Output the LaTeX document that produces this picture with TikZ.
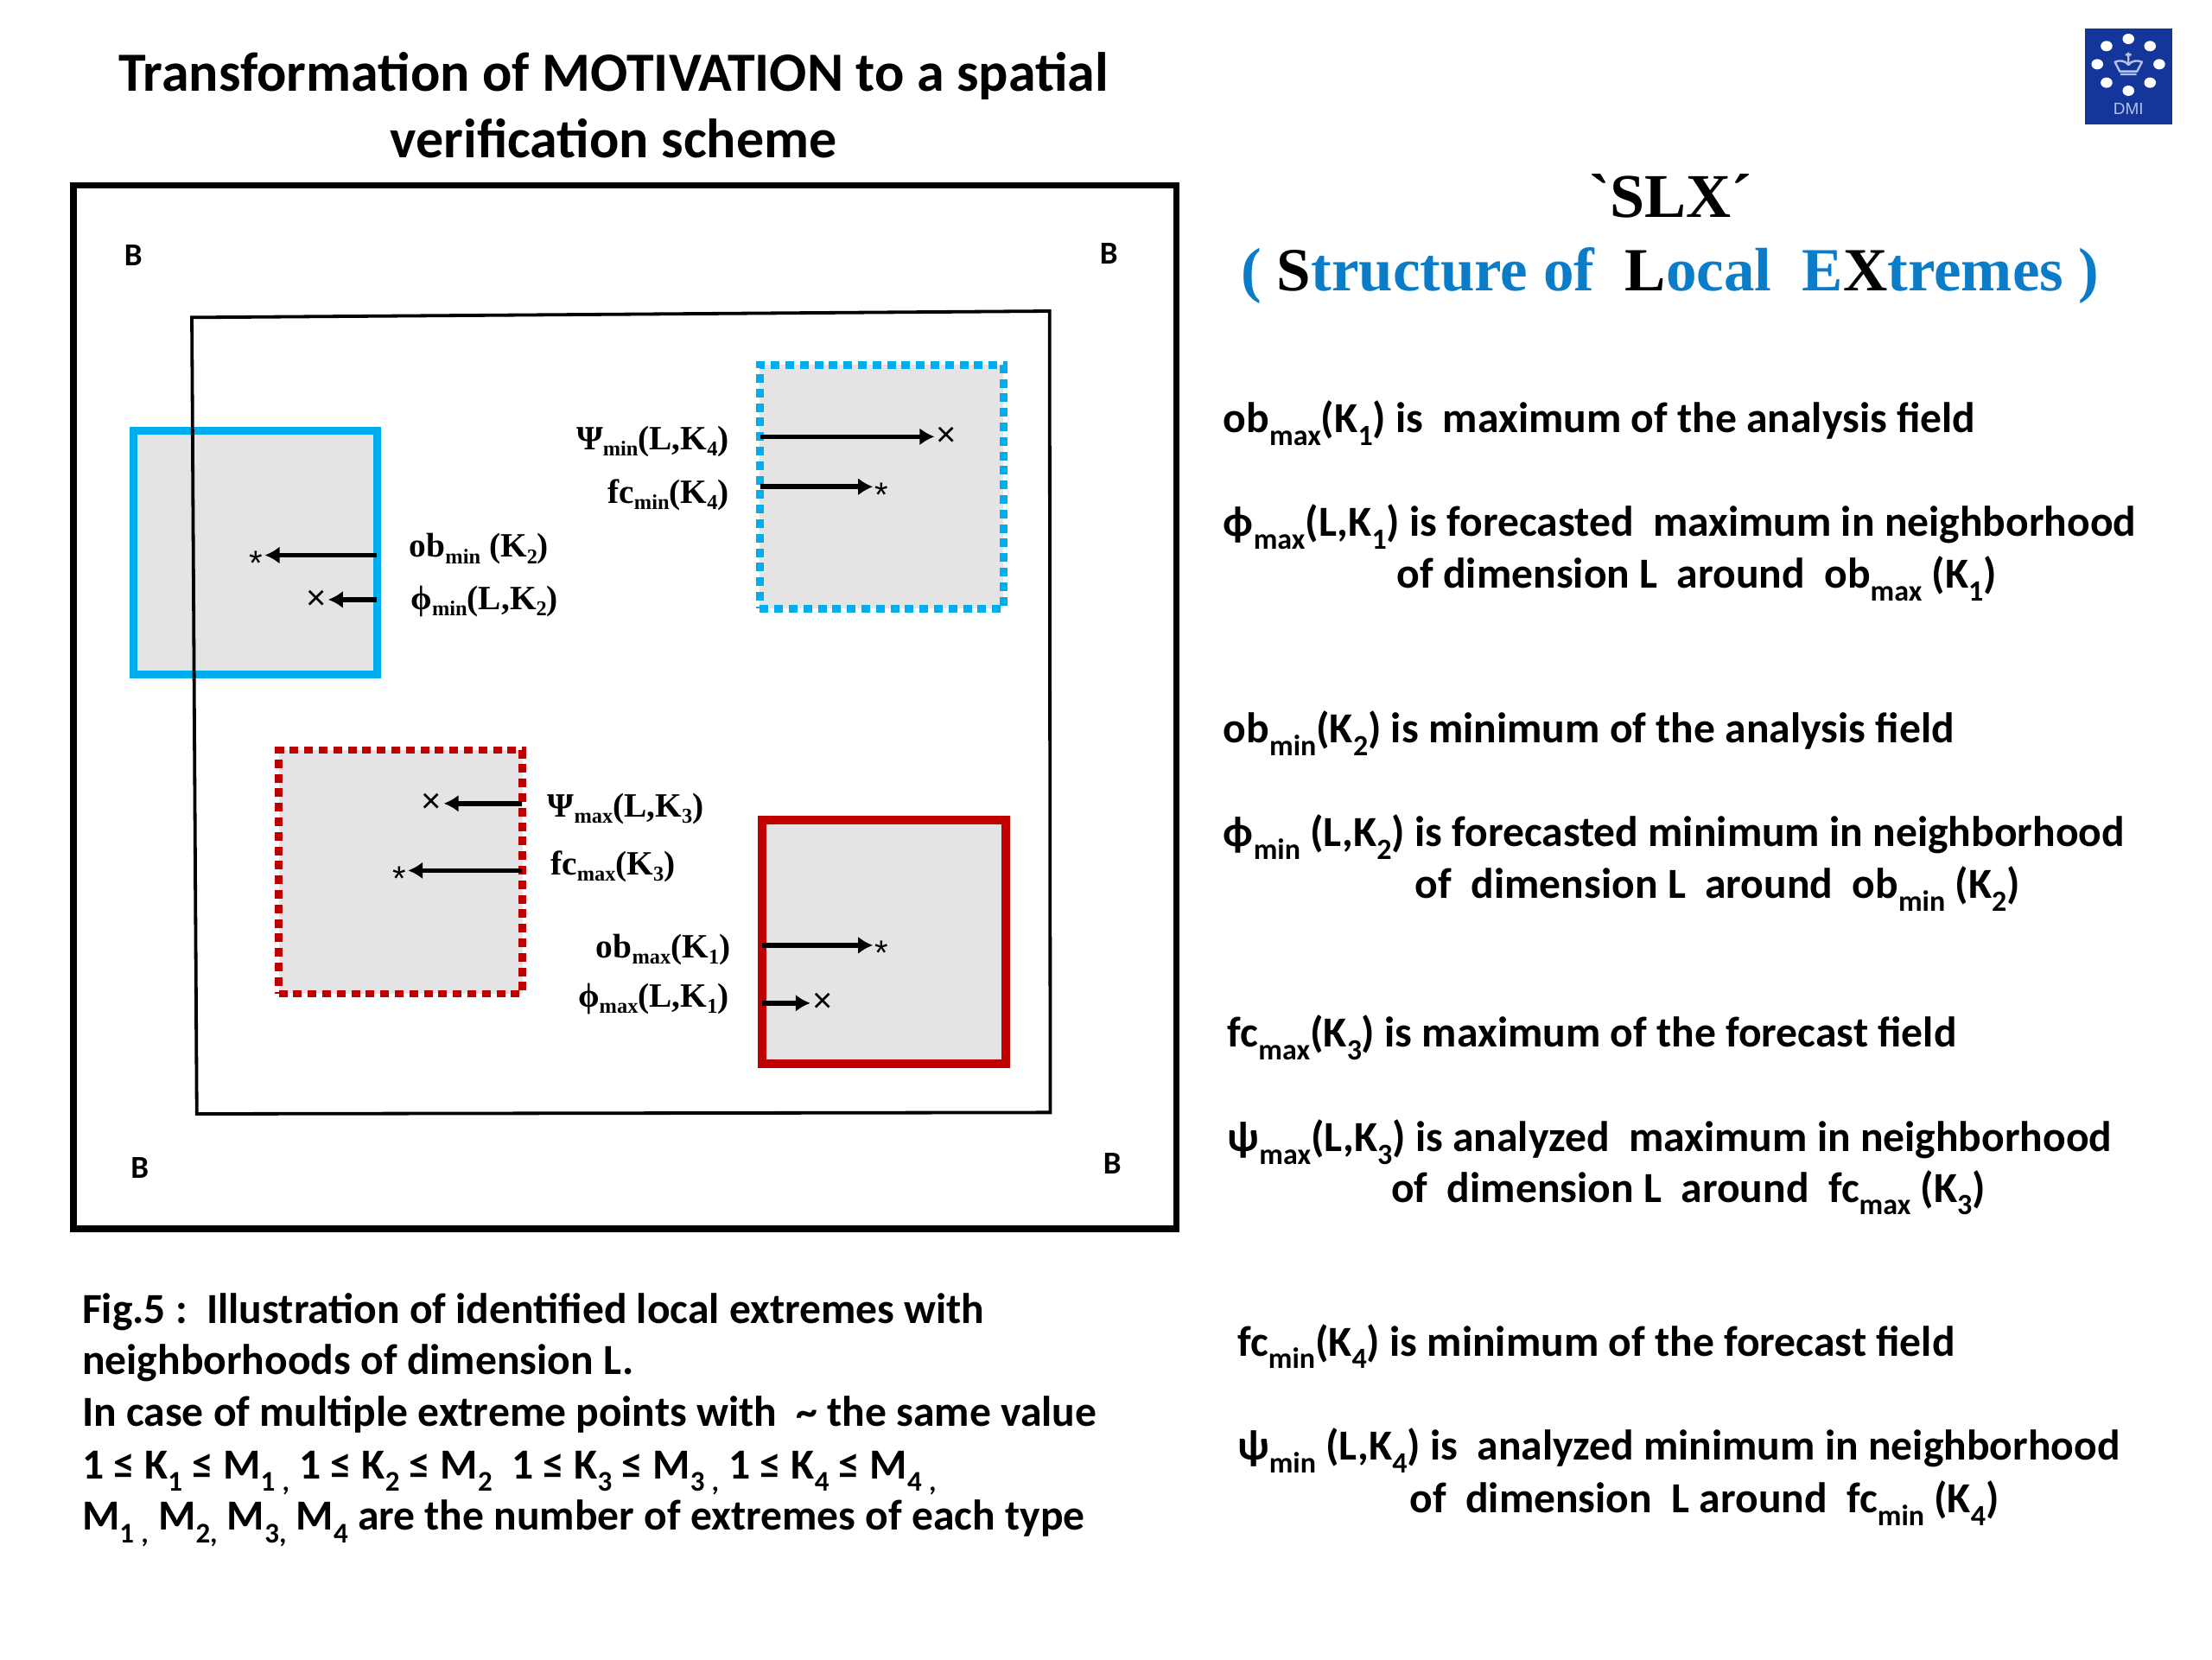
\documentclass[tikz,border=0pt]{standalone}
\usepackage{fontspec}
\setmainfont{Carlito}
\newfontfamily\serifb{Liberation Serif}[BoldFont={Liberation Serif Bold}]
\newfontfamily\sansm{Liberation Sans}
\usetikzlibrary{arrows.meta}
\definecolor{cyanb}{HTML}{00AEEF}
\definecolor{redb}{HTML}{C00000}
\definecolor{greyf}{HTML}{E4E4E4}
\definecolor{titleblue}{HTML}{0B7DC8}
\definecolor{logoblue}{HTML}{14359A}
\definecolor{logolt}{HTML}{B4C2E6}
\newcommand\dn[1]{\raisebox{-0.3em}{\fontsize{17}{17}\selectfont #1}}
\newcommand\ds[1]{\raisebox{-0.18em}{\fontsize{12.2}{12.2}\selectfont #1}}
\newcommand\dc[1]{\raisebox{-0.3em}{\fontsize{16.5}{16.5}\selectfont #1}}
\newcommand\starmk{\raisebox{-0.575em}[0.3em][0.3em]{*}}
\tikzset{
 x=0.81633pt,y=-0.81633pt,
 body/.style={anchor=base west,inner sep=0,font=\fontsize{24.8}{24.8}\selectfont\bfseries},
 captext/.style={anchor=base west,inner sep=0,font=\fontsize{24.8}{24.8}\selectfont\bfseries},
 headtext/.style={anchor=base,inner sep=0,font=\fontsize{32}{32}\selectfont\bfseries},
 corner/.style={inner sep=0,font=\fontsize{18.5}{18.5}\selectfont\bfseries},
 lab/.style={inner sep=0,font=\fontsize{19.7}{19.7}\selectfont\serifb\bfseries},
 labw/.style={lab,anchor=base west},
 labe/.style={lab,anchor=base east},
 region/.style={draw,fill=greyf,minimum width=141pt,minimum height=141pt,inner sep=0},
 solidc/.style={region,draw=cyanb,line width=4.6pt},
 dotc/.style={region,draw=cyanb,line width=4.3pt,dash pattern=on 5pt off 3.4pt},
 solidr/.style={region,draw=redb,line width=5pt},
 dotr/.style={region,draw=redb,line width=4.3pt,dash pattern=on 5pt off 3.4pt},
 ptmark/.style={inner sep=1pt,font=\fontsize{20}{20}\selectfont\sansm},
 arr/.style={-{Latex[length=8.5pt,width=10pt]},line width=2.8pt,shorten <=2.5pt},
}
\begin{document}
\begin{tikzpicture}
\useasboundingbox (0,0) rectangle (1568,1176);
\node[headtext] (t1) at (435,64.5) {Transformation of MOTIVATION to a spatial};
\node[headtext] (t2) at (435,111.5) {verification scheme};
% frames
\draw[line width=3.7pt] (52,131.5) rectangle (834,871);
% regions
\node[solidc] (r2) at (181,391.5) {};
\node[dotc] (r4) at (625,345) {};
\node[dotr] (r3) at (284,618) {};
\node[solidr] (r1) at (626.5,667.5) {};
\draw[line width=1.9pt,line join=miter] (136,225) -- (744,220.5) -- (744.5,788.5) -- (139.5,789.5) -- cycle;
% corner labels
\node[corner] (b1) at (94.5,181) {B};
\node[corner] (b2) at (786,179.5) {B};
\node[corner] (b3) at (99,828) {B};
\node[corner] (b4) at (788.5,825) {B};
% marks
\node[ptmark] (m2a) at (181.5,393.5) {\starmk};
\node[ptmark] (m2b) at (224,425) {×};
\node[ptmark] (m4a) at (671,309.5) {×};
\node[ptmark] (m4b) at (625,345) {\starmk};
\node[ptmark] (m3a) at (306,569.5) {×};
\node[ptmark] (m3b) at (283,617) {\starmk};
\node[ptmark] (m1a) at (625,670) {\starmk};
\node[ptmark] (m1b) at (583,711) {×};
% arrows
\draw[arr] (m2a -| r2.east) -- (m2a);
\draw[arr] (m2b -| r2.east) -- (m2b);
\draw[arr] (m4a -| r4.west) -- (m4a);
\draw[arr] (m4b -| r4.west) -- (m4b);
\draw[arr] (m3a -| r3.east) -- (m3a);
\draw[arr] (m3b -| r3.east) -- (m3b);
\draw[arr] (m1a -| r1.west) -- (m1a);
\draw[arr] (m1b -| r1.west) -- (m1b);
% labels
\node[labw] (l1) at (290,395) {ob\ds{min} (K\ds{2})};
\node[labw] (l2) at (291,432) {ϕ\ds{min}(L,K\ds{2})};
\node[labe] (l3) at (517,319) {Ψ\ds{min}(L,K\ds{4})};
\node[labe] (l4) at (517,357) {fc\ds{min}(K\ds{4})};
\node[labw] (l5) at (388,579) {Ψ\ds{max}(L,K\ds{3})};
\node[labw] (l6) at (390,620) {fc\ds{max}(K\ds{3})};
\node[labe] (l7) at (518,679) {ob\ds{max}(K\ds{1})};
\node[labe] (l8) at (517,714) {ϕ\ds{max}(L,K\ds{1})};
% caption
\node[captext] (c1) at (58,938) {Fig.5 :\ \ Illustration of identified local extremes with};
\node[captext] (c2) at (58,974) {neighborhoods of dimension L.};
\node[captext] (c3) at (58,1011) {In case of multiple extreme points with\ \ \textasciitilde\ the same value};
\node[captext] (c4) at (58,1048) {1 ≤ K\dc{1} ≤ M\dc{1}\,\dc{,} 1 ≤ K\dc{2} ≤ M\dc{2}\ \ 1 ≤ K\dc{3} ≤ M\dc{3}\,\dc{,} 1 ≤ K\dc{4} ≤ M\dc{4}\,\dc{,}};
\node[captext] (c5) at (58,1084.5) {M\dc{1}\,\dc{,} M\dc{2,} M\dc{3,}\ M\dc{4}\ are the number of extremes of each type};
% title right
\node[anchor=base,inner sep=0,font=\fontsize{36}{36}\selectfont\serifb\bfseries] (s1) at (1184,154) {`SLX´};
\node[anchor=base,inner sep=0,font=\fontsize{35.5}{35.5}\selectfont\serifb\bfseries,text=titleblue] (s2) at (1184,206) {( \textcolor{black}{S}tructure of\ \ \textcolor{black}{L}ocal\ \ E\textcolor{black}{X}tremes )};
% definitions
\node[body] (d1) at (867,306.5) {ob\dn{max}(K\dn{1}) is\ \ maximum of the analysis field};
\node[body] (d2) at (867,380) {ϕ\dn{max}(L,K\dn{1}) is forecasted\ \ maximum in neighborhood};
\node[body] (d3) at (990,417) {of dimension L\ \ around\ \ ob\dn{max} (K\dn{1})};
\node[body] (d4) at (867,526.5) {ob\dn{min}(K\dn{2}) is minimum of the analysis field};
\node[body] (d5) at (867,600) {ϕ\dn{min} (L,K\dn{2}) is forecasted minimum in neighborhood};
\node[body] (d6) at (1003,636.5) {of\ \ dimension L\ \ around\ \ ob\dn{min} (K\dn{2})};
\node[body] (d7) at (870,742) {fc\dn{max}(K\dn{3}) is maximum of the forecast field};
\node[body] (d8) at (870,816) {ψ\dn{max}(L,K\dn{3}) is analyzed\ \ maximum in neighborhood};
\node[body] (d9) at (986,852) {of\ \ dimension L\ \ around\ \ fc\dn{max} (K\dn{3})};
\node[body] (d10) at (877,961) {fc\dn{min}(K\dn{4}) is minimum of the forecast field};
\node[body] (d11) at (877,1035) {ψ\dn{min} (L,K\dn{4}) is\ \ analyzed minimum in neighborhood};
\node[body] (d12) at (999,1072) {of\ \ dimension\ \ L around\ \ fc\dn{min} (K\dn{4})};
% logo
\begin{scope}[shift={(1457.7,6.12)},x=0.16667pt,y=-0.16667pt]
\fill[logoblue] (98,70) rectangle (402,403);
\foreach \p in {(250,105),(325,130),(357,193),(325,257),(250,285),(174,257),(142,193),(174,130)}
  \fill[white] \p ellipse [x radius=3.4pt,y radius=3pt];
\draw[logolt,line width=1.2pt,line join=round] (222,228) -- (278,228) (220,218) -- (280,218) -- (297,185) .. controls (280,178) and (262,180) .. (250,195) .. controls (238,180) and (220,178) .. (203,185) -- cycle (250,152) -- (250,195) (240,160) -- (260,160);
\node[inner sep=0,text=logolt,font=\fontsize{9.5}{9.5}\selectfont\sansm] (dmi) at (250,347) {DMI};
\end{scope}
\end{tikzpicture}
\end{document}
